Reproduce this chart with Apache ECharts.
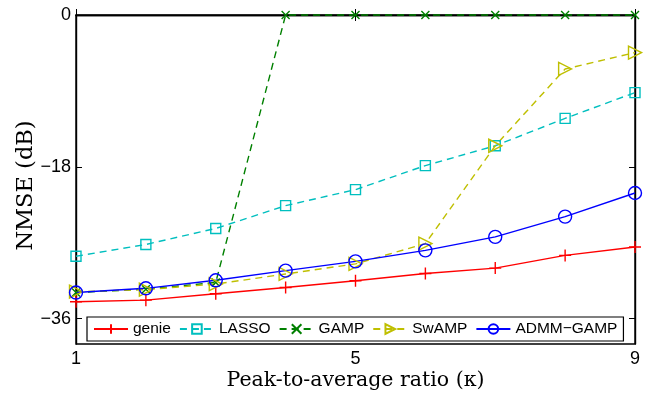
<!DOCTYPE html>
<html>
<head>
<meta charset="utf-8">
<script src="https://cdn.jsdelivr.net/npm/echarts@6/dist/echarts.min.js"></script>
<style>html,body{margin:0;padding:0;background:#fff}#c{width:652px;height:401px}</style>
</head>
<body>
<div id="c"></div>
<script>
const kappa = [1, 2, 3, 4, 5, 6, 7, 8, 9];
const genie = [-34.0, -33.8, -33.05, -32.3, -31.5, -30.65, -30.0, -28.5, -27.5];
const lasso = [-28.6, -27.2, -25.3, -22.6, -20.7, -17.85, -15.5, -12.25, -9.2];
const gamp = [-32.9, -32.5, -31.7, 0, 0, 0, 0, 0, 0];
const swamp = [-32.8, -32.55, -31.9, -30.7, -29.5, -27.1, -15.5, -6.4, -4.45];
const admm = [-32.9, -32.4, -31.45, -30.3, -29.2, -27.9, -26.3, -23.9, -21.1];
const xTicks = [1, 5, 9];
const yTicks = [-36, -18, 0];
const names = ['genie', 'LASSO', 'GAMP', 'SwAMP', 'ADMM\u2212GAMP'];

const pair = arr => kappa.map((k, i) => [k, arr[i]]);
const plusPath = 'path://M0,5L10,5M5,0L5,10';
const crossPath = 'path://M0,0L10,10M10,0L0,10';

function mk(name, data, color, dashed, symbol, size, rotate) {
  return {
    name: name, type: 'line', data: pair(data), clip: false,
    symbol: symbol, symbolSize: size, symbolRotate: rotate || 0,
    lineStyle: { color: color, width: 1.4, type: dashed ? [7, 5] : 'solid' },
    itemStyle: { color: 'rgba(0,0,0,0)', borderColor: color, borderWidth: 1.4 },
    emphasis: { disabled: true }, animation: false
  };
}

const chart = echarts.init(document.getElementById('c'));
const sans = 'Liberation Sans, Arial, sans-serif';
const serif = 'DejaVu Serif, serif';
chart.setOption({
  backgroundColor: '#fff',
  animation: false,
  grid: { left: 76, right: 17, top: 15, bottom: 57, containLabel: false, outerBoundsMode: 'none',
    show: true, borderColor: '#000', borderWidth: 1.4, backgroundColor: 'transparent' },
  legend: {
    left: 87, top: 317, orient: 'horizontal',
    padding: [4, 6, 4, 6], itemGap: 8, itemWidth: 34, itemHeight: 12,
    borderColor: '#000', borderWidth: 1.2, backgroundColor: '#fff',
    textStyle: { fontFamily: sans, fontSize: 15.5, color: '#000', padding: [0, 0, 0, 0] },
    data: names
  },
  xAxis: [{
    type: 'value', min: 1, max: 9, interval: 4,
    axisLine: { show: true, lineStyle: { color: '#000', width: 1.4 } },
    axisTick: { inside: true, length: 6, lineStyle: { color: '#000' } },
    axisLabel: { fontFamily: sans, fontSize: 18, color: '#000', margin: 6 },
    splitLine: { show: false },
    name: 'Peak-to-average ratio (\u03BA)', nameLocation: 'middle', nameGap: 26, nameMoveOverlap: false,
    nameTextStyle: { fontFamily: serif, fontSize: 20.5, color: '#000' }
  }, {
    type: 'value', position: 'top', min: 1, max: 9, interval: 4,
    axisLine: { show: true, lineStyle: { color: '#000', width: 1.4 } },
    axisTick: { inside: true, length: 6, lineStyle: { color: '#000' } },
    axisLabel: { show: false }, splitLine: { show: false }
  }],
  yAxis: [{
    type: 'value', min: -39, max: 0,
    axisLine: { show: true, lineStyle: { color: '#000', width: 1.4 } },
    axisTick: { inside: true, length: 6, lineStyle: { color: '#000' }, customValues: yTicks },
    axisLabel: { fontFamily: sans, fontSize: 18, color: '#000', margin: 5, customValues: yTicks,
      formatter: v => (v < 0 ? '\u2212' + Math.abs(v) : String(v)) },
    splitLine: { show: false },
    name: 'NMSE (dB)', nameLocation: 'middle', nameGap: 38, nameMoveOverlap: false,
    nameTextStyle: { fontFamily: serif, fontSize: 22.5, color: '#000', padding: [0, 12, 0, 0] }
  }, {
    type: 'value', position: 'right', min: -39, max: 0,
    axisLine: { show: true, lineStyle: { color: '#000', width: 1.4 } },
    axisTick: { inside: true, length: 6, lineStyle: { color: '#000' }, customValues: yTicks },
    axisLabel: { show: false, customValues: yTicks }, splitLine: { show: false }
  }],
  series: [
    mk(names[0], genie, '#ff0000', false, plusPath, 12),
    mk(names[1], lasso, '#00bfbf', true, 'rect', 10),
    mk(names[2], gamp, '#008000', true, crossPath, 8),
    mk(names[3], swamp, '#bfbf00', true, 'triangle', 13, -90),
    mk(names[4], admm, '#0000ff', false, 'circle', 13)
  ]
});
</script>
</body>
</html>
